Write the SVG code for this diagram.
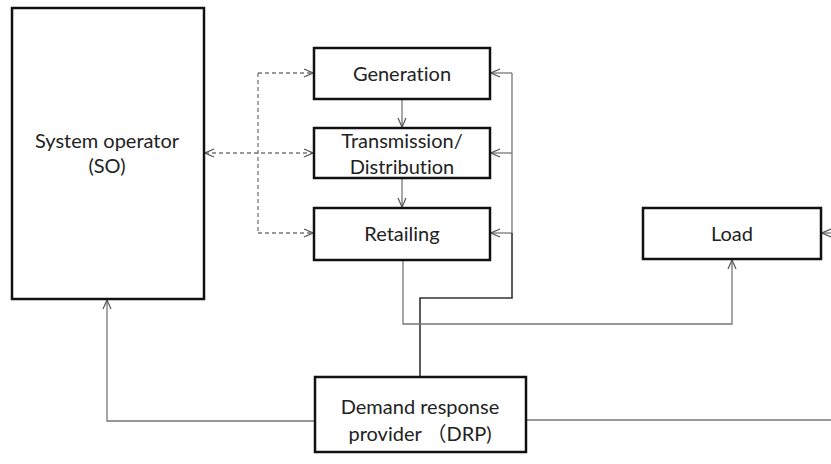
<svg xmlns="http://www.w3.org/2000/svg" width="831" height="464" viewBox="0 0 831 464">
  <style>
    .box { fill: #fff; stroke: #111; stroke-width: 2.5; }
    .lbl { font-family: Lato, "Open Sans", "Liberation Sans", "Noto Sans CJK JP", sans-serif; font-size: 20px; fill: #222; text-anchor: middle; font-variant-ligatures: none; font-feature-settings: "liga" 0; }
    .ln { fill: none; stroke: #777; stroke-width: 1.3; }
    .dk { fill: none; stroke: #333; stroke-width: 1.6; }
    .dash { fill: none; stroke: #777; stroke-width: 1.3; stroke-dasharray: 4 3; }
  </style>
  <defs>
    <marker id="arr" viewBox="0 0 10 10" refX="10" refY="5" markerWidth="10" markerHeight="10" markerUnits="userSpaceOnUse" orient="auto-start-reverse">
      <path d="M1,1 L10,5 L1,9" fill="none" stroke="#555" stroke-width="1.2"/>
    </marker>
  </defs>

  <g id="connectors">
    <!-- dashed SO links -->
    <path class="dash" d="M258,73 V233" />
    <path class="dash" d="M258,73 H313" marker-end="url(#arr)"/>
    <path class="dash" d="M258,233 H313" marker-end="url(#arr)"/>
    <path class="dash" d="M205,153 H313" marker-start="url(#arr)" marker-end="url(#arr)"/>
    <!-- chain -->
    <path class="ln" d="M402,99 V127" marker-end="url(#arr)"/>
    <path class="ln" d="M402,178 V207" marker-end="url(#arr)"/>
    <!-- DRP feedback to chain -->
    <path class="ln" d="M512,73 V233" />
    <path class="ln" d="M512,73 H491" marker-end="url(#arr)"/>
    <path class="ln" d="M512,153 H491" marker-end="url(#arr)"/>
    <path class="ln" d="M512,233 H491" marker-end="url(#arr)"/>
    <path class="dk" d="M512,233 V298 H420 V377" />
    <!-- retailing to load -->
    <path class="ln" d="M403,261 V324 H732 V260" marker-end="url(#arr)"/>
    <!-- DRP to SO -->
    <path class="ln" d="M315,421 H107 V300" marker-end="url(#arr)"/>
    <!-- DRP to load (wraps at right edge) -->
    <path class="ln" d="M526,420 H831" />
    <path class="ln" d="M835,233 H822" marker-end="url(#arr)"/>
  </g>

  <g id="so">
    <rect class="box" x="12" y="8" width="192" height="291"/>
    <text class="lbl" x="107" y="148">System operator</text>
    <text class="lbl" x="107" y="173">(SO)</text>
  </g>
  <g id="generation">
    <rect class="box" x="314" y="48" width="176" height="51"/>
    <text class="lbl" x="402" y="81">Generation</text>
  </g>
  <g id="transmission">
    <rect class="box" x="314" y="128" width="176" height="50"/>
    <text class="lbl" x="402" y="148">Transmission/</text>
    <text class="lbl" x="402" y="174">Distribution</text>
  </g>
  <g id="retailing">
    <rect class="box" x="314" y="208" width="176" height="52"/>
    <text class="lbl" x="402" y="241">Retailing</text>
  </g>
  <g id="load">
    <rect class="box" x="643" y="208" width="178" height="51"/>
    <text class="lbl" x="732" y="241">Load</text>
  </g>
  <g id="drp">
    <rect class="box" x="315" y="377" width="211" height="75"/>
    <text class="lbl" x="420" y="414">Demand response</text>
    <text class="lbl" x="420" y="441">provider （DRP)</text>
  </g>
</svg>
